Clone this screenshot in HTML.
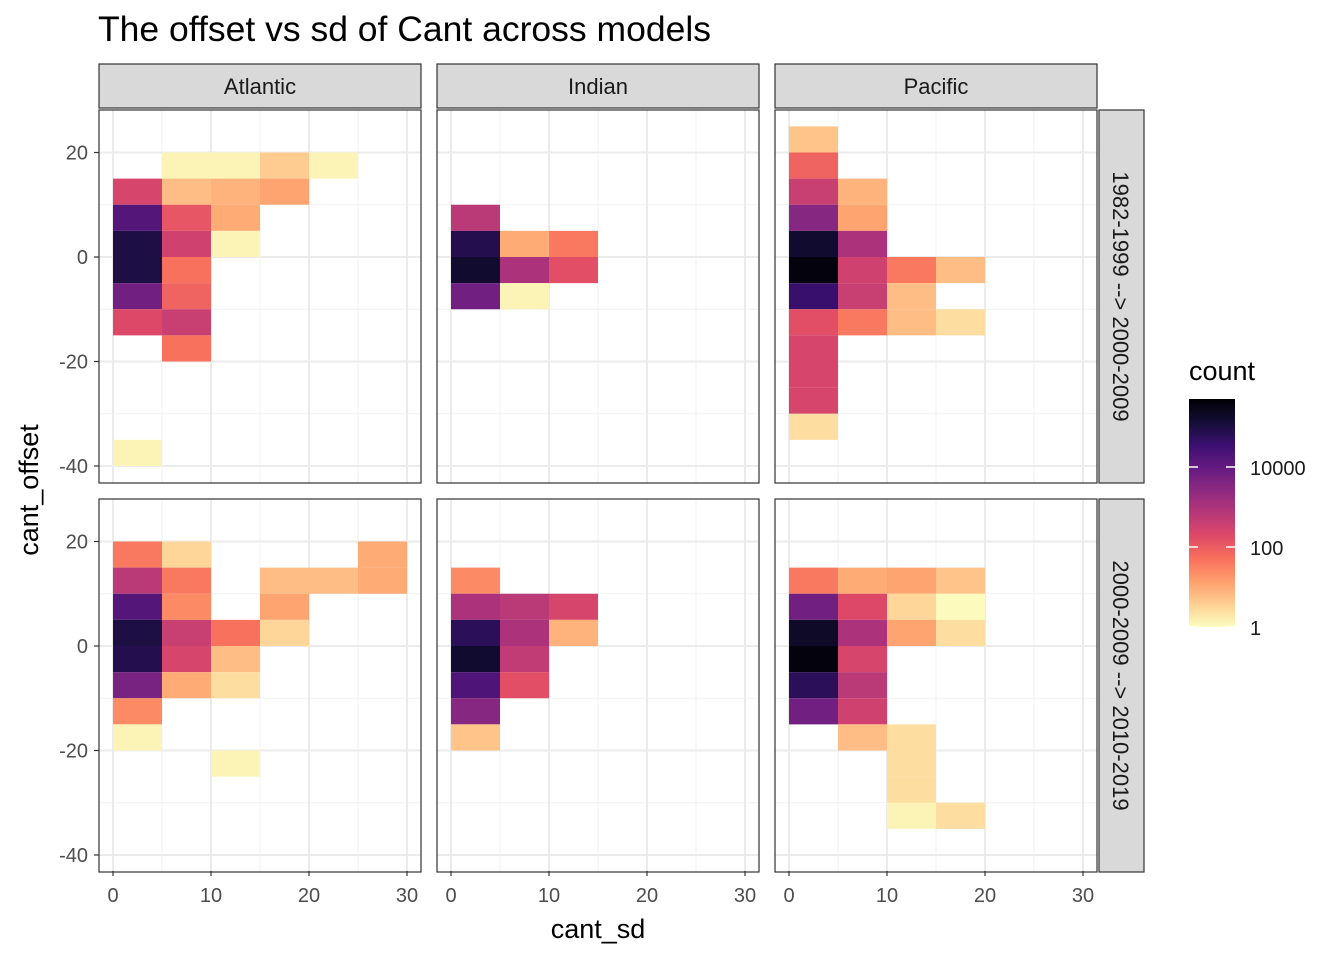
<!DOCTYPE html>
<html><head><meta charset="utf-8"><style>
body{margin:0;background:#fff;}
svg text{font-family:"Liberation Sans",sans-serif;}
</style></head><body>
<svg id="chart" width="1344" height="960" xmlns="http://www.w3.org/2000/svg">
<text x="98" y="41" font-size="35.5" fill="#000">The offset vs sd of Cant across models</text>
<text x="598" y="938" font-size="27" text-anchor="middle">cant_sd</text>
<text transform="translate(38,490) rotate(-90)" font-size="27" text-anchor="middle">cant_offset</text>
</svg>
<script>
// data: [xbinStart, ybinStart, count]
const basins = ["Atlantic","Indian","Pacific"];
const periods = ["1982-1999 --> 2000-2009","2000-2009 --> 2010-2019"];
const xTicks = [0,10,20,30];
const yTicks = [-40,-20,0,20];
const legendTicks = [1,100,10000];
const tilesAtlTop = [[5,15,1.3],[10,15,1.3],[15,15,4],[20,15,1.3],[0,10,250],[5,10,6],[10,10,8],[15,10,12],[0,5,16000],[5,5,125],[10,5,10],[0,0,100000],[5,0,320],[10,0,1.3],[0,-5,100000],[5,-5,50],[0,-10,6300],[5,-10,80],[0,-15,200],[5,-15,400],[5,-20,50],[0,-40,1.3]];
const tilesIndTop = [[0,5,630],[0,0,80000],[5,0,10],[10,0,40],[0,-5,160000],[5,-5,1000],[10,-5,160],[0,-10,6300],[5,-10,1.3]];
const tilesPacTop = [[0,20,5],[0,15,80],[0,10,400],[5,10,8],[0,5,3200],[5,5,12],[0,0,160000],[5,0,1000],[0,-5,400000],[5,-5,320],[10,-5,40],[15,-5,6],[0,-10,40000],[5,-10,400],[10,-10,6],[0,-15,160],[5,-15,40],[10,-15,6],[15,-15,2.5],[0,-20,250],[0,-25,250],[0,-30,250],[0,-35,2.5]];
const tilesAtlBot = [[0,15,40],[5,15,3],[25,15,10],[0,10,630],[5,10,40],[15,10,6],[20,10,6],[25,10,10],[0,5,16000],[5,5,25],[15,5,12],[0,0,100000],[5,0,400],[10,0,50],[15,0,3],[0,-5,80000],[5,-5,250],[10,-5,6],[0,-10,5000],[5,-10,10],[10,-10,2.5],[0,-15,25],[0,-20,1.3],[10,-25,1.3]];
const tilesIndBot = [[0,10,25],[0,5,1000],[5,5,630],[10,5,250],[0,0,63000],[5,0,1000],[10,0,8],[0,-5,160000],[5,-5,500],[0,-10,20000],[5,-10,160],[0,-15,3200],[0,-20,5]];
const tilesPacBot = [[0,10,40],[5,10,10],[10,10,12],[15,10,5],[0,5,6300],[5,5,200],[10,5,3],[15,5,1.1],[0,0,200000],[5,0,1000],[10,0,12],[15,0,2.5],[0,-5,400000],[5,-5,250],[0,-10,63000],[5,-10,630],[0,-15,6300],[5,-15,320],[5,-20,6],[10,-20,2.5],[10,-25,2.5],[10,-30,2.5],[10,-35,1.3],[15,-35,2.5]];
const panelTiles = [[tilesAtlTop,tilesIndTop,tilesPacTop],[tilesAtlBot,tilesIndBot,tilesPacBot]];

const NS="http://www.w3.org/2000/svg";
const svg=document.getElementById('chart');
function mk(tag,attrs,parent){const e=document.createElementNS(NS,tag);for(const k in attrs)e.setAttribute(k,attrs[k]);(parent||svg).appendChild(e);return e;}
const magma=["#000004","#140e36","#3b0f70","#641a80","#8c2981","#b73779","#de4968","#f7705c","#fe9f6d","#fecf92","#fcfdbf"];
const LMAX=5.7;
function hex(h){return [1,3,5].map(i=>parseInt(h.substr(i,2),16));}
function color(c){let t=1-Math.log10(c)/LMAX;t=Math.max(0,Math.min(1,t));const p=t*10,i=Math.min(9,Math.floor(p)),f=p-i;const a=hex(magma[i]),b=hex(magma[i+1]);return `rgb(${a.map((v,k)=>Math.round(v+(b[k]-v)*f)).join(',')})`;}
const colX=[99,437,775],PW=322,rowY=[110,499],PH=373;
function xs(col,v){return colX[col]+14+v*9.8;}
function ys(row,v){return rowY[row]+147-v*5.225;}
for(let r=0;r<2;r++)for(let c=0;c<3;c++){
  const g=mk('g',{});
  
  
  mk('rect',{x:colX[c],y:rowY[r],width:PW,height:PH,fill:'#fff'},g);
  [5,15,25].forEach(v=>mk('line',{x1:xs(c,v),x2:xs(c,v),y1:rowY[r],y2:rowY[r]+PH,stroke:'#f2f2f2','stroke-width':1},g));
  [-30,-10,10].forEach(v=>mk('line',{x1:colX[c],x2:colX[c]+PW,y1:ys(r,v),y2:ys(r,v),stroke:'#f2f2f2','stroke-width':1},g));
  xTicks.forEach(v=>mk('line',{x1:xs(c,v),x2:xs(c,v),y1:rowY[r],y2:rowY[r]+PH,stroke:'#ebebeb','stroke-width':2},g));
  yTicks.forEach(v=>mk('line',{x1:colX[c],x2:colX[c]+PW,y1:ys(r,v),y2:ys(r,v),stroke:'#ebebeb','stroke-width':2},g));
  panelTiles[r][c].forEach(d=>{
    const t=mk('rect',{x:xs(c,d[0]),y:ys(r,d[1]+5),width:xs(c,d[0]+5)-xs(c,d[0]),height:ys(r,d[1])-ys(r,d[1]+5),fill:color(d[2])},g);
    
    
  });
  mk('rect',{x:colX[c],y:rowY[r],width:PW,height:PH,fill:'none',stroke:'#333','stroke-width':1.2},g);
}
for(let c=0;c<3;c++){
  const s=mk('rect',{x:colX[c],y:64,width:PW,height:44,fill:'#d9d9d9',stroke:'#333','stroke-width':1.2});
  
  
  const t=mk('text',{x:colX[c]+PW/2,y:94,'font-size':22,'text-anchor':'middle',fill:'#1a1a1a'});t.textContent=basins[c];
  
  
  xTicks.forEach(v=>{mk('line',{x1:xs(c,v),x2:xs(c,v),y1:871,y2:876,stroke:'#333','stroke-width':1.2});
    const l=mk('text',{x:xs(c,v),y:902,'font-size':20,'text-anchor':'middle',fill:'#4d4d4d'});l.textContent=v;
    
    });
}
for(let r=0;r<2;r++){
  const s=mk('rect',{x:1099,y:rowY[r],width:45,height:PH,fill:'#d9d9d9',stroke:'#333','stroke-width':1.2});
  
  
  const t=mk('text',{transform:`translate(1113,${rowY[r]+PH/2}) rotate(90)`,'font-size':22,'text-anchor':'middle',fill:'#1a1a1a'});t.textContent=periods[r];
  
  
  yTicks.forEach(v=>{mk('line',{x1:94,x2:99,y1:ys(r,v),y2:ys(r,v),stroke:'#333','stroke-width':1.2});
    const l=mk('text',{x:88,y:ys(r,v)+7,'font-size':20,'text-anchor':'end',fill:'#4d4d4d'});l.textContent=v;
    
    });
}
// legend
const lt=mk('text',{x:1189,y:380,'font-size':27});lt.textContent='count';


const defs=mk('defs',{});const lg=mk('linearGradient',{id:'lg',x1:0,y1:1,x2:0,y2:0},defs);
for(let i=0;i<=20;i++){const v=Math.pow(10,LMAX*i/20);mk('stop',{offset:i/20,'stop-color':color(v)},lg);}
const LB=627,LT=399;
const bar=mk('rect',{x:1189,y:LT,width:46,height:LB-LT,fill:'url(#lg)'});


legendTicks.forEach(v=>{const y=LB-(Math.log10(v)/LMAX)*(LB-LT);
  mk('line',{x1:1189,x2:1198,y1:y,y2:y,stroke:'#fff','stroke-width':1.5});
  mk('line',{x1:1226,x2:1235,y1:y,y2:y,stroke:'#fff','stroke-width':1.5});
  const l=mk('text',{x:1250,y:y+8,'font-size':20,fill:'#1a1a1a'});l.textContent=v;
  
  });
</script>
</body></html>
